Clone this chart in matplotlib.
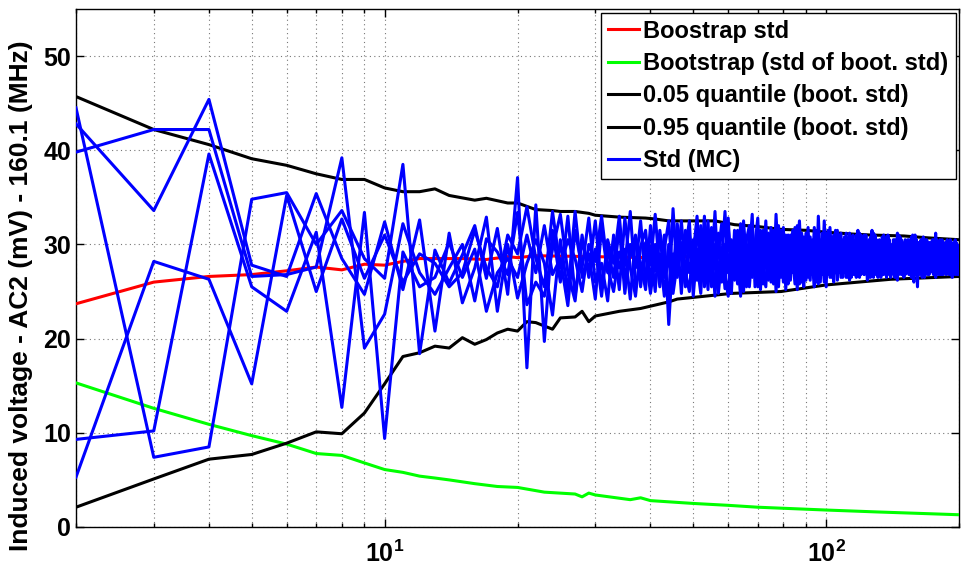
import numpy as np
import matplotlib
matplotlib.use('Agg')
import matplotlib.pyplot as plt
from matplotlib.ticker import LogLocator, NullFormatter, FixedLocator

plt.rcParams['font.family'] = ['Liberation Sans', 'DejaVu Sans']
plt.rcParams['font.weight'] = 'bold'
plt.rcParams['mathtext.fontset'] = 'custom'
plt.rcParams['mathtext.rm'] = 'Liberation Sans:bold'
plt.rcParams['mathtext.bf'] = 'Liberation Sans:bold'
plt.rcParams['mathtext.default'] = 'bf'

# Edit here START ------------
# sample sizes for the Monte Carlo std curves
mc_x = list(range(2, 201))

mc_1 = [44.5, 7.4, 8.5, 34.8, 35.5, 30.0, 33.6, 28.5, 26.4, 38.5, 18.4, 29.4, 25.9, 28.9, 32.0, 26.4, 31.7, 24.7, 37.1, 16.9, 34.2,
        19.7, 31.5, 26.0, 33.0, 24.5, 30.5, 27.0, 32.5, 25.5, 29.5,
        26.5, 31.8, 24.8, 30.0, 27.5, 32.5, 26.0, 29.8, 25.0, 31.5,
        27.8, 24.2, 33.8, 26.5, 30.2, 25.8, 31.0, 28.0, 26.2, 32.0,
        25.5, 30.5, 27.2, 33.5, 26.0, 29.5, 25.3, 31.8, 27.5, 29.0,
        25.8, 32.2, 27.0, 30.0, 26.3, 31.5, 28.2, 25.5, 30.8, 27.0,
        32.5, 26.5, 29.8, 25.8, 33.2, 27.8, 30.2, 26.0, 31.0, 28.5,
        26.2, 30.5, 27.5, 32.0, 26.8, 29.5, 27.2, 31.2, 26.5, 30.0,
        28.0, 25.5, 31.5, 27.0, 30.5, 26.8, 32.5, 27.8, 29.5, 26.5,
        30.8, 27.5, 29.0, 26.2, 31.0, 28.0, 30.0, 27.0, 29.8, 26.5,
        31.2, 27.8, 29.5, 26.8, 30.5, 28.2, 27.0, 31.0, 28.5, 26.8,
        30.2, 27.5, 29.8, 26.5, 31.5, 28.0, 29.2, 27.2, 30.0, 26.8,
        29.5, 27.8, 31.0, 28.2, 26.8, 30.2, 27.5, 29.8, 27.0, 30.5,
        28.0, 26.5, 31.2, 27.8, 29.5, 27.0, 30.0, 28.5, 26.8, 29.8,
        27.5, 30.5, 28.0, 26.5, 29.5, 27.2, 31.0, 28.2, 25.5, 30.0,
        27.8, 29.5, 27.0, 30.8, 28.2, 27.5, 29.8, 26.8, 30.2, 28.0,
        27.2, 30.0, 28.5, 26.8, 31.2, 27.8, 29.2, 27.5, 30.5, 28.2,
        26.8, 29.8, 27.5, 30.2, 28.0, 27.0, 29.5, 28.5, 26.8, 30.0,
        27.8, 29.2, 27.2, 30.5, 28.0, 26.8, 29.5, 28.2]
mc_2 = [42.8, 33.6, 45.4, 27.8, 26.6, 35.4, 28.5, 24.7, 32.4, 25.2, 32.6, 20.8, 31.2, 23.8, 27.5, 32.9, 22.9, 30.0, 24.3, 28.0, 30.5,
        28.0, 22.5, 30.5, 25.0, 33.5, 26.5, 29.0, 24.2, 31.8, 27.0,
        30.5, 25.2, 32.8, 27.5, 24.5, 29.8, 31.5, 26.0, 30.0, 25.5,
        29.5, 32.5, 26.0, 30.8, 24.8, 31.5, 27.0, 29.0, 33.0, 26.5,
        30.0, 25.2, 31.8, 27.5, 29.2, 32.2, 26.8, 24.5, 30.5, 27.8,
        31.5, 26.2, 29.5, 25.5, 31.2, 27.0, 30.0, 32.8, 26.5, 29.2,
        27.5, 30.8, 26.0, 31.5, 27.8, 25.5, 30.2, 28.5, 26.8, 31.0,
        29.0, 27.0, 31.8, 26.5, 29.5, 27.8, 30.8, 26.2, 30.0, 28.2,
        26.8, 30.5, 27.5, 29.2, 26.0, 31.2, 28.0, 26.5, 30.2, 28.5,
        27.0, 31.0, 28.2, 26.8, 29.5, 27.2, 30.5, 28.8, 26.5, 30.0,
        27.5, 29.0, 31.0, 27.2, 28.5, 30.2, 26.5, 28.8, 30.0, 27.5,
        28.8, 26.2, 30.5, 28.0, 27.2, 29.8, 26.8, 30.5, 28.2, 27.0,
        30.2, 28.5, 26.8, 29.5, 30.8, 27.5, 28.8, 26.5, 29.8, 28.0,
        30.5, 27.2, 28.5, 30.0, 27.0, 29.2, 26.8, 30.2, 28.0, 27.5,
        29.8, 27.0, 30.0, 28.5, 26.8, 30.5, 27.8, 29.0, 27.2, 30.2,
        28.5, 27.0, 30.5, 27.8, 29.5, 26.8, 30.0, 28.2, 27.2, 29.8,
        27.8, 29.0, 26.8, 30.0, 28.5, 27.0, 29.8, 28.0, 26.8, 30.2,
        28.2, 27.5, 29.5, 27.0, 30.2, 28.5, 27.2, 29.8, 28.0, 27.5,
        29.5, 27.5, 30.0, 28.2, 27.2, 29.8, 27.8, 28.8]
mc_3 = [39.8, 42.2, 42.2, 26.6, 26.8, 27.6, 39.2, 19.0, 22.6, 32.2, 27.0, 24.7, 27.5, 30.0, 24.0, 30.6, 29.2, 26.8, 33.4, 23.6, 26.0,
        24.5, 29.5, 33.2, 27.0, 24.0, 31.0, 26.5, 29.5, 24.5, 30.5,
        28.0, 33.0, 26.5, 28.8, 31.0, 25.5, 30.2, 27.8, 33.2, 26.8,
        31.0, 21.5, 29.0, 27.5, 32.5, 27.0, 25.0, 30.5, 28.0, 24.8,
        31.5, 28.5, 26.0, 30.0, 24.8, 28.5, 33.5, 27.0, 30.0, 26.2,
        29.0, 27.5, 32.5, 28.0, 25.5, 29.5, 27.0, 30.8, 25.2, 31.5,
        28.8, 26.2, 31.8, 27.5, 29.0, 32.0, 26.5, 29.5, 27.2, 25.8,
        31.0, 28.5, 25.8, 29.5, 32.5, 27.0, 25.5, 30.0, 28.5, 26.2,
        30.5, 28.8, 26.0, 33.0, 28.0, 29.0, 26.0, 30.5, 27.0, 31.8,
        28.5, 26.0, 30.2, 28.8, 27.0, 31.2, 26.5, 29.5, 30.8, 27.5,
        26.2, 30.5, 27.8, 29.8, 26.5, 31.5, 28.0, 27.0, 29.5, 30.2,
        27.0, 29.5, 26.5, 30.8, 28.5, 26.5, 31.0, 27.8, 29.0, 28.0,
        26.5, 30.5, 27.8, 29.0, 26.5, 31.0, 28.2, 27.2, 30.0, 26.8,
        29.5, 28.0, 26.2, 31.0, 28.5, 27.2, 29.8, 26.5, 30.5, 28.2,
        29.0, 26.8, 28.2, 30.8, 28.0, 26.0, 29.2, 30.5, 28.0, 27.0,
        30.0, 28.0, 26.5, 29.2, 27.0, 30.5, 28.2, 29.5, 26.8, 30.2,
        29.0, 27.5, 30.5, 28.2, 26.5, 29.5, 27.2, 30.2, 28.0, 26.8,
        30.5, 28.2, 27.0, 29.5, 26.8, 30.5, 28.0, 26.8, 29.8, 28.5,
        26.5, 30.2, 28.0, 27.5, 29.8, 28.2, 26.8, 29.5]
mc_4 = [9.3, 10.2, 39.6, 25.5, 22.9, 31.3, 12.7, 33.4, 9.4, 29.2, 25.5, 26.5, 30.2, 26.5, 29.5, 22.9, 27.0, 28.5, 26.5, 31.0, 27.0,
        32.0, 26.8, 28.5, 23.5, 31.5, 27.5, 32.8, 26.0, 28.0, 24.0,
        31.0, 27.5, 29.5, 24.2, 30.8, 28.0, 25.2, 32.0, 27.2, 29.0,
        24.5, 30.0, 27.0, 32.2, 28.5, 25.5, 30.5, 26.0, 31.5, 28.5,
        27.0, 32.5, 25.5, 28.8, 31.2, 26.0, 30.0, 28.2, 24.8, 31.5,
        27.2, 29.8, 25.0, 30.5, 32.0, 26.5, 29.0, 27.2, 31.5, 25.8,
        30.0, 28.2, 26.5, 30.5, 25.0, 29.5, 31.5, 27.0, 29.8, 26.5,
        28.0, 31.5, 27.2, 29.0, 25.8, 31.2, 28.5, 27.5, 31.8, 26.8,
        29.2, 27.0, 31.0, 25.8, 29.5, 27.5, 30.5, 25.5, 31.5, 27.8,
        29.8, 27.5, 31.5, 27.0, 29.2, 26.5, 30.0, 27.5, 31.2, 28.2,
        28.8, 26.5, 30.5, 28.5, 31.0, 27.0, 29.5, 26.8, 28.0, 31.0,
        29.2, 27.5, 30.0, 28.2, 26.8, 31.2, 27.2, 28.8, 26.5, 30.5,
        28.0, 26.8, 30.2, 27.5, 29.2, 28.0, 30.5, 26.8, 29.0, 27.5,
        26.5, 29.8, 27.8, 28.5, 30.8, 26.8, 28.0, 29.8, 27.2, 29.5,
        30.5, 28.2, 27.5, 29.2, 31.0, 27.5, 28.8, 26.8, 30.2, 28.5,
        26.8, 30.5, 28.5, 27.0, 29.8, 28.2, 27.5, 30.2, 28.8, 27.0,
        30.2, 28.0, 29.5, 27.2, 28.8, 30.5, 28.0, 26.8, 29.5, 28.5,
        29.5, 26.8, 30.0, 28.5, 27.2, 29.2, 30.0, 27.5, 28.5, 29.8,
        28.5, 27.0, 29.0, 26.8, 30.2, 28.5, 29.8, 27.5]
mc_5 = [5.3, 28.2, 26.3, 15.2, 35.2, 25.0, 32.7, 26.4, 31.0, 26.0, 29.0, 28.0, 25.5, 27.0, 31.5, 27.5, 25.5, 31.0, 29.0, 34.0, 28.5,
        25.5, 33.5, 27.5, 30.5, 28.5, 25.0, 30.0, 28.2, 33.0, 27.5,
        25.0, 29.2, 27.8, 33.5, 25.8, 27.2, 29.0, 24.8, 28.5, 31.0,
        26.5, 28.5, 24.8, 28.0, 26.5, 29.5, 32.5, 24.5, 29.5, 27.5,
        33.0, 26.8, 29.5, 24.5, 30.8, 27.0, 28.5, 32.8, 26.5, 30.5,
        28.5, 24.5, 30.8, 26.5, 29.0, 33.2, 25.5, 28.5, 30.2, 27.2,
        25.5, 31.2, 28.0, 28.5, 30.5, 27.0, 28.0, 31.8, 25.2, 30.0,
        27.5, 29.5, 30.5, 25.2, 31.0, 26.0, 29.5, 28.8, 27.5, 30.8,
        27.2, 31.8, 28.8, 30.5, 27.0, 28.5, 29.0, 31.2, 26.8, 29.5,
        26.5, 29.5, 27.0, 31.5, 28.0, 29.8, 27.5, 30.8, 27.2, 29.5,
        30.0, 28.2, 26.8, 30.2, 27.5, 29.0, 31.2, 27.5, 30.0, 26.8,
        31.0, 28.2, 27.5, 29.5, 30.2, 27.0, 28.5, 30.0, 26.8, 29.5,
        27.2, 30.8, 28.5, 27.0, 29.5, 26.8, 29.8, 28.5, 27.2, 30.2,
        27.8, 30.5, 29.0, 26.8, 28.5, 30.5, 27.5, 28.0, 30.0, 27.0,
        28.2, 29.8, 26.8, 28.0, 30.2, 29.0, 26.8, 30.5, 27.8, 28.8,
        30.2, 27.5, 28.8, 29.5, 26.5, 29.8, 30.5, 27.2, 29.0, 28.0,
        28.5, 30.5, 27.0, 29.5, 28.2, 26.8, 30.0, 29.5, 27.5, 29.0,
        27.2, 30.0, 28.8, 27.2, 29.5, 30.2, 27.0, 28.8, 30.5, 27.5,
        29.5, 28.8, 27.5, 29.8, 27.5, 30.0, 28.2, 27.5]

boot_x = [2, 3, 4, 5, 6, 7, 8, 9, 10, 11, 12, 15, 17, 19, 20, 22, 30, 40, 50, 70, 100, 150, 200]
boot_std = [23.7, 26.0, 26.6, 26.8, 27.2, 27.6, 27.3, 27.9, 27.8, 28.2, 28.5, 28.5, 28.4, 28.7, 28.6, 28.8,
            28.7, 28.6, 28.7, 28.6, 28.6, 28.6, 28.5]

green_x = [2, 3, 4, 5, 6, 7, 8, 9, 10, 11, 12, 13, 14, 16, 18, 20, 23, 27, 28, 29, 30, 36, 38, 40, 50, 60, 70, 100, 130, 200]
boot_std_std = [15.3, 12.6, 10.9, 9.7, 8.8, 7.8, 7.6, 6.8, 6.1, 5.8, 5.4, 5.2, 5.0, 4.6, 4.3, 4.2, 3.7, 3.5, 3.2, 3.6,
                3.4, 2.9, 3.1, 2.8, 2.5, 2.3, 2.1, 1.8, 1.6, 1.3]

q05_x = [2, 3, 4, 5, 6, 7, 8, 9, 10, 11, 12, 13, 14, 15, 16, 17, 18, 19, 20, 21, 22, 24, 25, 27, 28, 29, 30,
         34, 38, 44, 46, 53, 61, 79, 100, 140, 200]
q05 = [2.1, 5.1, 7.2, 7.7, 8.9, 10.1, 9.9, 12.1, 15.2, 18.1, 18.5, 19.2, 19.0, 20.1, 19.4, 19.9, 20.6, 21.0, 20.8,
       21.8, 21.7, 21.0, 22.2, 22.3, 22.9, 21.8, 22.4, 22.9, 23.2, 23.9, 24.2, 24.5, 24.8, 25.0, 25.7, 26.3, 26.6]

q95_x = [2, 3, 4, 5, 6, 7, 8, 9, 10, 11, 12, 13, 14, 16, 17, 19, 20, 22, 24, 25, 27, 29, 30, 34, 39, 41, 44,
         50, 56, 62, 70, 79, 90, 100, 115, 126, 150, 170, 200]
q95 = [45.7, 42.2, 40.6, 39.1, 38.4, 37.5, 36.9, 36.9, 36.0, 35.6, 35.6, 35.9, 35.2, 34.7, 34.9, 34.4, 34.4, 33.7,
       33.6, 33.5, 33.5, 33.3, 33.1, 32.9, 32.8, 32.7, 32.5, 32.5, 32.5, 32.1, 31.9, 31.6, 31.5, 31.3, 31.1, 31.0,
       30.9, 30.7, 30.5]
# Edit here STOP -------------

fig = plt.figure(figsize=(9.61, 5.68), dpi=100)
ax = fig.add_axes([0.0791, 0.0722, 0.9189, 0.912])

lw = 2.2
ax.plot(boot_x, boot_std, color='red', lw=lw, label='Boostrap std', zorder=3)
ax.plot(green_x, boot_std_std, color=(0, 1, 0), lw=lw, label='Bootstrap (std of boot. std)', zorder=3)
ax.plot(q05_x, q05, color='black', lw=lw, label='0.05 quantile (boot. std)', zorder=3)
ax.plot(q95_x, q95, color='black', lw=lw, label='0.95 quantile (boot. std)', zorder=3)
for i, mc in enumerate([mc_1, mc_2, mc_3, mc_4, mc_5]):
    ax.plot(mc_x, mc, color='blue', lw=lw, label='Std (MC)' if i == 0 else None, zorder=4)

ax.set_xscale('log')
ax.set_xlim(2, 200)
ax.set_ylim(0, 55)
ax.set_yticks([0, 10, 20, 30, 40, 50])
ax.xaxis.set_major_locator(FixedLocator([10, 100]))
ax.set_xticklabels([r'$10^{1}$', r'$10^{2}$'])
ax.xaxis.set_minor_locator(LogLocator(base=10, subs=np.arange(2, 10)))
ax.xaxis.set_minor_formatter(NullFormatter())

grid_style = dict(linestyle=(0, (1, 3)), color='#777777', lw=0.8)
ax.grid(True, which='major', axis='both', **grid_style)
ax.grid(True, which='minor', axis='x', **grid_style)
ax.tick_params(which='both', direction='in', top=True, right=True, labelsize=18, width=1.0)
ax.tick_params(which='major', length=6)
ax.tick_params(which='minor', length=3)
ax.tick_params(axis='x', pad=10)
for s in ax.spines.values():
    s.set_linewidth(1.0)

ax.set_ylabel('Induced voltage - AC2 (mV) - 160.1 (MHz)', fontsize=19, fontweight='bold')
ax.yaxis.set_label_coords(-0.049, 0.446)

leg = ax.legend(loc='upper right', fontsize=17, handlelength=1.3, handletextpad=0.2,
                borderaxespad=0.15, borderpad=0.3, labelspacing=0.4, fancybox=False,
                framealpha=1.0, edgecolor='black')
leg.get_frame().set_linewidth(1.0)

plt.savefig('out.png', dpi=100)
plt.close()
